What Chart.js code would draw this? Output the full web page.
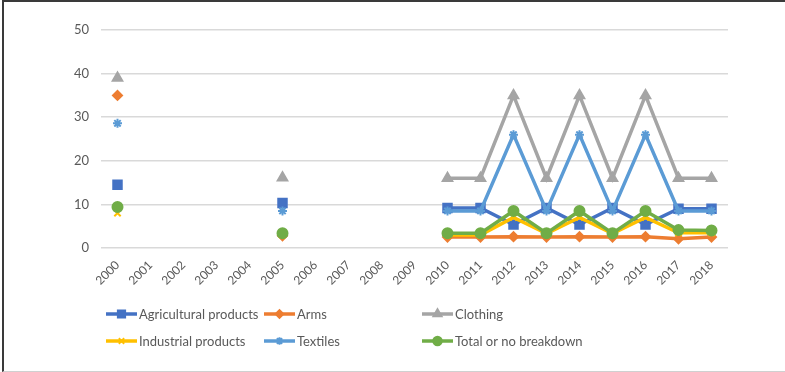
<!DOCTYPE html>
<html>
<head>
<meta charset="utf-8">
<script src="https://cdn.jsdelivr.net/npm/chart.js@4.4.1/dist/chart.umd.min.js"></script>
<style>
  html, body { margin: 0; padding: 0; background: #fff; }
  #wrap {
    position: relative;
    width: 785px;
    height: 372px;
    box-sizing: border-box;
    border-top: 2px solid #3a3a3a;
    border-left: 2px solid #3a3a3a;
    border-bottom: 1px solid #d0d0d0;
    margin-left: 2px;
  }
  canvas { display: block; }
</style>
</head>
<body>
<div id="wrap"><canvas id="chart" width="781" height="369"></canvas></div>
<script>
const years = ['2000', '2001', '2002', '2003', '2004', '2005', '2006', '2007', '2008', '2009',
               '2010', '2011', '2012', '2013', '2014', '2015', '2016', '2017', '2018'];

const agricultural = [14.5, null, null, null, null, 10.3, null, null, null, null,
                      9.2, 9.2, 5.4, 9.2, 5.4, 9.2, 5.4, 9, 9];
const arms = [35, null, null, null, null, 2.8, null, null, null, null,
              2.5, 2.5, 2.6, 2.5, 2.6, 2.5, 2.6, 2.1, 2.5];
const clothing = [39, null, null, null, null, 16.1, null, null, null, null,
                  16, 16, 35, 16, 35, 16, 35, 16, 16];
const industrial = [8, null, null, null, null, 3, null, null, null, null,
                    3, 3, 7, 3.3, 7, 3.3, 7, 3.5, 3.5];
const textiles = [28.6, null, null, null, null, 8.5, null, null, null, null,
                  8.5, 8.5, 26, 8.5, 26, 8.5, 26, 8.5, 8.5];
const totalOrNone = [9.4, null, null, null, null, 3.4, null, null, null, null,
                     3.4, 3.4, 8.5, 3.4, 8.5, 3.4, 8.5, 4.1, 4];

const yTicks = [0, 10, 20, 30, 40, 50];

const textColor = '#595959';

function series(label, data, color, pointStyle, radius, order) {
    return {
        label: label,
        data: data,
        borderColor: color,
        backgroundColor: color,
        pointBackgroundColor: color,
        pointBorderColor: color,
        pointBorderWidth: 2,
        pointStyle: pointStyle,
        pointRadius: radius,
        borderWidth: 3.5,
        tension: 0,
        spanGaps: false,
        order: order
    };
}

// legend drawn onto the canvas in three fixed columns
const gridLegend = {
    id: 'gridLegend',
    afterDraw(chart) {
        const ctx = chart.ctx;
        const cols = [102, 260, 418];
        const rows = [312, 339];
        ctx.save();
        ctx.font = '13px Lato';
        ctx.textBaseline = 'middle';
        chart.data.datasets.forEach((ds, i) => {
            const x = cols[i % 3];
            const y = rows[Math.floor(i / 3)];
            ctx.strokeStyle = ds.borderColor;
            ctx.lineWidth = 3.5;
            ctx.beginPath();
            ctx.moveTo(x, y);
            ctx.lineTo(x + 31, y);
            ctx.stroke();
            ctx.fillStyle = ds.pointBackgroundColor;
            ctx.strokeStyle = ds.pointBorderColor;
            ctx.lineWidth = 2;
            Chart.helpers.drawPoint(ctx, {
                pointStyle: ds.pointStyle,
                rotation: 0,
                borderWidth: 2,
                radius: ds.pointRadius * 0.85
            }, x + 15.5, y);
            ctx.fillStyle = textColor;
            ctx.fillText(ds.label, x + 33, y + 1);
        });
        ctx.restore();
    }
};

const chart = new Chart(document.getElementById('chart'), {
    type: 'line',
    data: {
        labels: years,
        datasets: [
            series('Agricultural products', agricultural, '#4472C4', 'rect', 6, 5),
            series('Arms', arms, '#ED7D31', 'rectRot', 4.5, 4),
            series('Clothing', clothing, '#A5A5A5', 'triangle', 5.5, 3),
            series('Industrial products', industrial, '#FFC000', 'crossRot', 4.5, 2),
            series('Textiles', textiles, '#5B9BD5', 'star', 4.5, 1),
            series('Total or no breakdown', totalOrNone, '#70AD47', 'circle', 5, 0)
        ]
    },
    options: {
        responsive: false,
        animation: false,
        layout: {
            padding: { left: 0, top: 28, right: 57, bottom: 0 }
        },
        plugins: {
            legend: { display: false },
            tooltip: { enabled: false }
        },
        scales: {
            x: {
                offset: true,
                grid: { display: false },
                border: { display: false },
                ticks: {
                    color: textColor,
                    font: { family: 'Lato', size: 12 },
                    minRotation: 45,
                    maxRotation: 45,
                    padding: 2
                },
                afterFit(scale) { scale.height = 123; }
            },
            y: {
                min: 0,
                max: 50,
                afterBuildTicks(scale) {
                    scale.ticks = yTicks.map(v => ({ value: v }));
                },
                grid: { color: '#D9D9D9', lineWidth: 1.5, drawTicks: false },
                border: { display: false },
                ticks: {
                    color: textColor,
                    font: { family: 'Lato', size: 13 },
                    padding: 12
                },
                afterFit(scale) { scale.width = 97; }
            }
        }
    },
    plugins: [gridLegend]
});
</script>
</body>
</html>
